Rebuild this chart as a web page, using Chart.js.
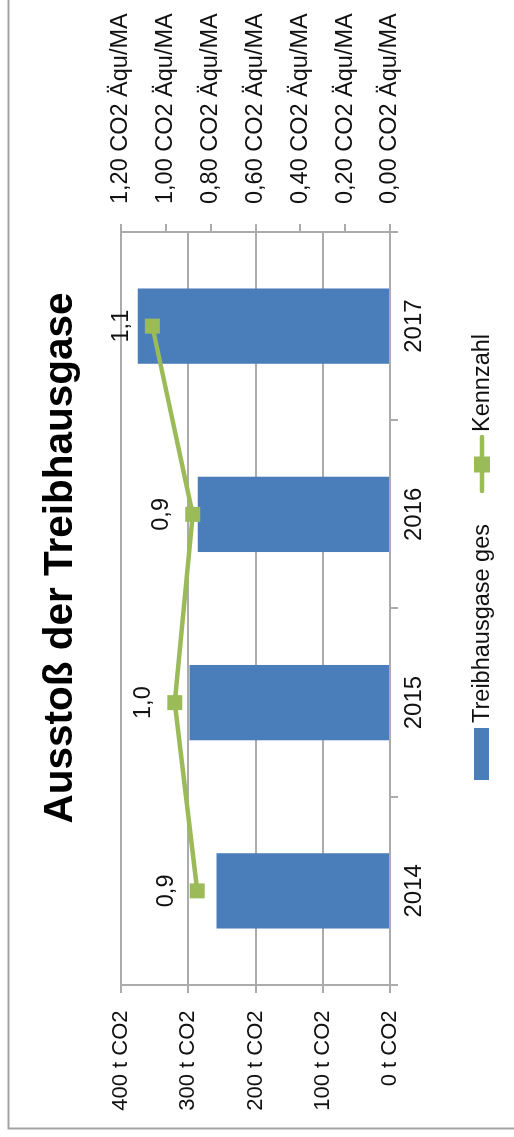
<!DOCTYPE html>
<html>
<head>
<meta charset="utf-8">
<title>Ausstoß der Treibhausgase</title>
<script src="https://cdn.jsdelivr.net/npm/chart.js@4/dist/chart.umd.min.js"></script>
<style>
  html, body { margin: 0; padding: 0; background: #fff; overflow: hidden; }
  /* landscape chart turned a quarter turn counter-clockwise to fit the portrait page */
  #wrap {
    position: absolute; left: 0; top: 0;
    width: 1137px; height: 514px;
    transform-origin: 0 0;
    transform: translate(0, 1137px) rotate(-90deg);
  }
  canvas { display: block; }
</style>
</head>
<body>
<div id="wrap"><canvas id="chart" width="1137" height="514"></canvas></div>
<script>
// ---- data ----
const years = ['2014', '2015', '2016', '2017'];
const emissions = [258, 298, 286, 375];          // Treibhausgase ges, t CO2
const ratio = [0.86, 0.96, 0.88, 1.06];          // Kennzahl, CO2 Äqu/MA
const emissionAxis = { min: 0, max: 400, step: 100 };
const ratioAxis = { min: 0, max: 1.2, step: 0.2 };

const FONT = "'Liberation Sans', Arial, sans-serif";
const TEXT = '#111111';
const GRID = '#ABABAB';
const BLUE = '#4A7EBB';
const GREEN = '#9BBB59';

const deNum = (v, d) => v.toFixed(d).replace('.', ',');

// white page, outer frame and title
const frame = {
  id: 'frame',
  beforeDraw(chart) {
    const ctx = chart.ctx;
    ctx.save();
    ctx.fillStyle = '#ffffff';
    ctx.fillRect(0, 0, chart.width, chart.height);
    ctx.strokeStyle = '#A3A3A3';
    ctx.lineWidth = 2;
    ctx.beginPath();
    ctx.moveTo(chart.width + 2, 8.5);
    ctx.lineTo(8.5, 8.5);
    ctx.lineTo(8.5, chart.height + 2);
    ctx.stroke();
    ctx.fillStyle = '#000000';
    ctx.font = 'bold 40.5px ' + FONT;
    ctx.textAlign = 'center';
    ctx.textBaseline = 'alphabetic';
    ctx.fillText('Ausstoß der Treibhausgase', 579, 72);
    ctx.restore();
  }
};

// value labels above the Kennzahl markers
const pointLabels = {
  id: 'pointLabels',
  afterDatasetsDraw(chart) {
    const ctx = chart.ctx;
    chart.data.datasets.forEach((ds, i) => {
      if (ds.type !== 'line') return;
      const meta = chart.getDatasetMeta(i);
      ctx.save();
      ctx.fillStyle = TEXT;
      ctx.font = '23.5px ' + FONT;
      ctx.textAlign = 'center';
      ctx.textBaseline = 'alphabetic';
      meta.data.forEach((el, j) => {
        ctx.fillText(deNum(ds.data[j], 1), el.x, el.y - 24.5);
      });
      ctx.restore();
    });
  }
};

// legend below the category axis
const bottomLegend = {
  id: 'bottomLegend',
  afterDraw(chart) {
    const ctx = chart.ctx;
    const bars = chart.data.datasets.find(d => d.type === 'bar');
    const line = chart.data.datasets.find(d => d.type === 'line');
    ctx.save();
    ctx.font = '23.5px ' + FONT;
    ctx.fillStyle = TEXT;
    ctx.textAlign = 'left';
    ctx.textBaseline = 'alphabetic';
    // bar key
    ctx.fillStyle = bars.backgroundColor;
    ctx.fillRect(357, 474, 52, 15);
    ctx.fillStyle = TEXT;
    ctx.fillText(bars.label, 414, 489);
    // line key with marker
    ctx.strokeStyle = line.borderColor;
    ctx.lineWidth = 4.5;
    ctx.lineCap = 'round';
    ctx.beginPath();
    ctx.moveTo(646, 482);
    ctx.lineTo(700, 482);
    ctx.stroke();
    ctx.fillStyle = line.borderColor;
    ctx.fillRect(672.5 - 8, 482 - 8, 16, 16);
    ctx.fillStyle = TEXT;
    ctx.fillText(line.label, 705, 489);
    ctx.restore();
  }
};

new Chart(document.getElementById('chart'), {
  data: {
    labels: years,
    datasets: [
      {
        type: 'line',
        label: 'Kennzahl',
        data: ratio,
        yAxisID: 'y1',
        order: 0,
        borderColor: GREEN,
        backgroundColor: GREEN,
        borderWidth: 4.5,
        tension: 0,
        pointStyle: 'rect',
        pointRadius: 10.6,
        pointBorderWidth: 0,
        pointBackgroundColor: GREEN,
        clip: false
      },
      {
        type: 'bar',
        label: 'Treibhausgase ges',
        data: emissions,
        yAxisID: 'y',
        order: 1,
        backgroundColor: BLUE,
        borderWidth: 0,
        categoryPercentage: 1.0,
        barPercentage: 0.4
      }
    ]
  },
  options: {
    responsive: false,
    animation: false,
    devicePixelRatio: 1,
    layout: { padding: { top: 121, bottom: 64, left: 0, right: 0 } },
    plugins: {
      legend: { display: false },
      title: { display: false },
      tooltip: { enabled: false }
    },
    scales: {
      x: {
        offset: true,
        grid: { offset: true, drawOnChartArea: false, drawTicks: true, tickLength: 8, color: GRID, lineWidth: 2 },
        border: { display: true, color: GRID, width: 2 },
        ticks: { padding: 2, color: TEXT, font: { family: FONT, size: 24 } },
        afterFit(s) { s.height = 60; }
      },
      y: {
        position: 'left',
        min: emissionAxis.min,
        max: emissionAxis.max,
        grid: { color: GRID, lineWidth: 2, tickLength: 8 },
        border: { display: true, color: GRID, width: 2 },
        ticks: {
          stepSize: emissionAxis.step,
          padding: 17.5,
          color: TEXT,
          font: { family: FONT, size: 22 },
          callback: v => v + ' t CO2'
        },
        afterFit(s) { s.width = 152; }
      },
      y1: {
        position: 'right',
        min: ratioAxis.min,
        max: ratioAxis.max,
        grid: { drawOnChartArea: false, color: GRID, lineWidth: 2, tickLength: 8 },
        border: { display: true, color: GRID, width: 2 },
        ticks: {
          stepSize: ratioAxis.step,
          padding: 20,
          color: TEXT,
          font: { family: FONT, size: 23.5 },
          callback: v => deNum(v, 2) + ' CO2 Äqu/MA'
        },
        afterFit(s) { s.width = 232; }
      }
    }
  },
  plugins: [frame, pointLabels, bottomLegend]
});
</script>
</body>
</html>
